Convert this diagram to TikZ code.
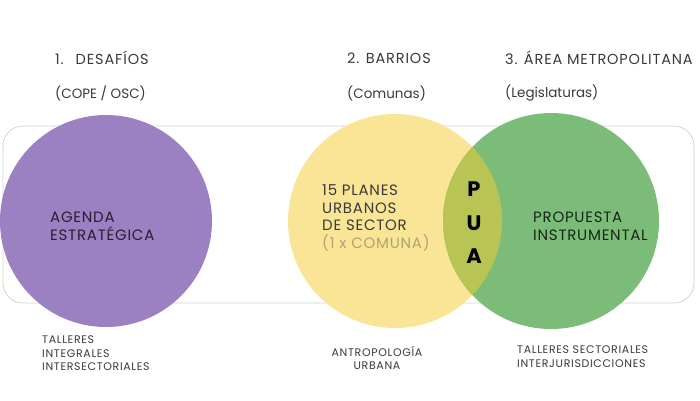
\documentclass[tikz,border=0pt]{standalone}
\usepackage{fontspec}
\setmainfont{Poppins}
\definecolor{purp}{HTML}{9B80C2}
\definecolor{yel}{HTML}{F9E595}
\definecolor{grn}{HTML}{7BBD78}
\definecolor{lens}{HTML}{B8C453}
\definecolor{txt}{HTML}{3A3A3A}
\definecolor{frame}{HTML}{D4D4D4}
\begin{document}
\begin{tikzpicture}[x=1pt,y=-1pt,
  head/.style={anchor=west,text=txt,font=\fontsize{14.5}{16}\selectfont\addfontfeature{LetterSpace=6},inner sep=0pt},
  sub/.style={anchor=west,text=txt,font=\fontsize{13.5}{16}\selectfont,inner sep=0pt},
  inner/.style={anchor=west,align=left,text=txt,font=\fontsize{15}{17.6}\selectfont\addfontfeature{LetterSpace=5},inner sep=0pt},
  foot/.style={align=left,text=txt,font=\fontsize{11}{13.3}\selectfont\addfontfeature{LetterSpace=6},inner sep=0pt},
  pua/.style={text=black,font=\fontsize{21}{33.5}\bfseries\selectfont,inner sep=0pt,align=center}]
\useasboundingbox (0,0) rectangle (700,400);
\fill[white] (0,0) rectangle (700,400);
% frame
\draw[frame,line width=0.8pt,rounded corners=20pt] (3,126) rectangle (694,303) node[pos=0.5] (frame) {};
% circles
\fill[purp] (106,221) circle (106) node (agenda) {};
\fill[yel] (395,221) circle (107) node (barrios) {};
\fill[grn] (551,221) circle (108) node (metro) {};
\begin{scope}
  \clip (395,221) circle (107);
  \fill[lens] (551,221) circle (108);
\end{scope}
% headings
\node[head] (h1) at (55,58) {1.\hspace{12pt}DESAFÍOS};
\node[sub] (s1) at (55,93) {(COPE / OSC)};
\node[head] (h2) at (347,58) {2. BARRIOS};
\node[sub] (s2) at (347,93) {(Comunas)};
\node[head] (h3) at (505,58) {3. ÁREA METROPOLITANA};
\node[sub] (s3) at (505,93) {(Legislaturas)};
% inner texts
\node[inner,text=black!75!purp] (t1) at (50,226) {AGENDA\\ESTRATÉGICA};
\node[inner] (t2) at (322,218) {15 PLANES\\URBANOS\\DE SECTOR\\\textcolor{black!25!yel!80!gray}{(1 x COMUNA)}};
\node[inner,text=black!80!grn] (t3) at (533,226) {PROPUESTA\\INSTRUMENTAL};
\node[pua] (pua) at (474,223) {P\\U\\A};
% footers
\node[foot,anchor=north west] (f1) at (42,336) {TALLERES\\INTEGRALES\\INTERSECTORIALES};
\node[foot,align=center,anchor=north] (f2) at (377,346) {ANTROPOLOGÍA\\URBANA};
\node[foot,anchor=north west] (f3) at (517,346) {TALLERES SECTORIALES\\INTERJURISDICCIONES};
\end{tikzpicture}
\end{document}
